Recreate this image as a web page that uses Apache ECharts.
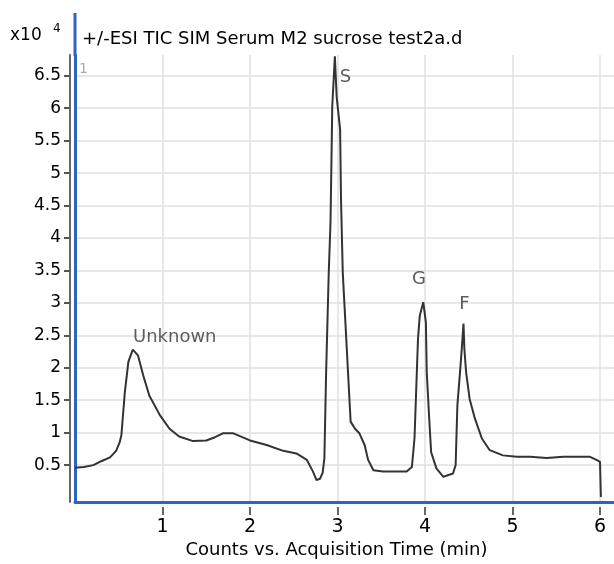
<!DOCTYPE html>
<html>
<head>
<meta charset="utf-8">
<script src="https://cdn.jsdelivr.net/npm/echarts@6/dist/echarts.min.js"></script>
<style>html,body{margin:0;padding:0;background:#fff}#c{width:614px;height:564px}</style>
</head>
<body>
<div id="c"></div>
<script>
// Retention time (min)
var times = [0.00,0.10,0.21,0.30,0.40,0.47,0.51,0.53,0.57,0.61,0.66,0.72,0.78,0.85,0.97,1.08,1.19,1.35,1.50,1.60,1.69,1.81,2.00,2.19,2.38,2.53,2.65,2.72,2.76,2.80,2.83,2.85,2.87,2.90,2.92,2.93,2.94,2.96,2.97,2.99,3.03,3.04,3.06,3.10,3.13,3.15,3.20,3.25,3.31,3.35,3.41,3.52,3.65,3.79,3.85,3.88,3.90,3.92,3.94,3.98,4.01,4.02,4.05,4.07,4.13,4.21,4.32,4.35,4.37,4.40,4.42,4.44,4.45,4.47,4.51,4.57,4.65,4.74,4.89,5.05,5.20,5.39,5.58,5.75,5.88,5.96,6.00,6.01];
// Counts (x10^4)
var counts = [0.46,0.47,0.50,0.56,0.62,0.72,0.85,0.96,1.63,2.09,2.28,2.19,1.88,1.57,1.27,1.06,0.94,0.87,0.88,0.93,0.99,0.99,0.88,0.81,0.72,0.68,0.58,0.40,0.27,0.29,0.38,0.60,1.93,3.47,4.24,5.11,6.03,6.54,6.80,6.18,5.67,4.60,3.47,2.45,1.68,1.17,1.06,0.99,0.81,0.58,0.42,0.40,0.40,0.40,0.47,0.91,1.68,2.45,2.80,3.01,2.70,1.93,1.17,0.70,0.45,0.32,0.37,0.50,1.42,1.93,2.29,2.68,2.29,1.93,1.52,1.22,0.91,0.73,0.65,0.63,0.63,0.61,0.63,0.63,0.63,0.58,0.55,0.01];
// Peak annotations
var peakNames = ['Unknown','S','G','F'];
var peakLabelTimes = [1.14,3.09,3.93,4.45];
var peakLabelCounts = [2.47,6.48,3.37,2.98];
// Ticks
var xTicks = [1,2,3,4,5,6];
var yTicks = [0.5,1,1.5,2,2.5,3,3.5,4,4.5,5,5.5,6,6.5];

var titleText = '+/-ESI TIC SIM Serum M2 sucrose test2a.d';
var xName = 'Counts vs. Acquisition Time (min)';

var BLUE = '#2e63c6';
var FONT = 'DejaVu Sans';

var trace = times.map(function(t,i){return [t,counts[i]];});
var peaks = peakNames.map(function(n,i){return {name:n,value:[peakLabelTimes[i],peakLabelCounts[i]]};});

var chart = echarts.init(document.getElementById('c'), null, {renderer:'canvas'});
chart.setOption({
  animation:false,
  backgroundColor:'#fff',
  title:{text:titleText,left:77,top:25,textStyle:{fontFamily:FONT,fontSize:18,fontWeight:'normal',color:'#000'}},
  grid:{left:75,right:0,top:55,bottom:60.5,containLabel:false},
  xAxis:[{
    type:'value',min:0,max:6.16,position:'bottom',
    axisLine:{show:true,onZero:false,lineStyle:{color:BLUE,width:3}},
    axisTick:{show:false,customValues:xTicks},
    axisLabel:{show:false},
    splitLine:{show:true,lineStyle:{color:'#e0e0e0',width:1.5}}
  },{
    type:'value',min:0,max:6.16,position:'bottom',offset:5,
    axisLine:{show:false,onZero:false},
    axisTick:{show:true,length:8,customValues:xTicks,lineStyle:{color:'#666',width:2}},
    axisLabel:{show:true,customValues:xTicks,margin:10,fontFamily:FONT,fontSize:19,color:'#000'},
    splitLine:{show:false},
    name:xName,nameLocation:'middle',nameGap:33,
    nameTextStyle:{fontFamily:FONT,fontSize:18,color:'#000',padding:[0,16,0,0]}
  }],
  yAxis:[{
    type:'value',min:-0.07,max:6.82,position:'left',
    axisLine:{show:true,onZero:false,lineStyle:{color:BLUE,width:3}},
    axisTick:{show:false,customValues:yTicks},
    axisLabel:{show:false},
    splitLine:{show:true,lineStyle:{color:'#e0e0e0',width:1.5}}
  },{
    type:'value',min:-0.07,max:6.82,position:'left',offset:5,
    axisLine:{show:true,onZero:false,lineStyle:{color:'#666',width:2}},
    axisTick:{show:true,length:6,customValues:yTicks,lineStyle:{color:'#555',width:2}},
    axisLabel:{show:true,customValues:yTicks,margin:9,fontFamily:FONT,fontSize:17,color:'#000'},
    splitLine:{show:false}
  }],
  graphic:[
    {type:'line',shape:{x1:75,y1:13,x2:75,y2:56},style:{stroke:BLUE,lineWidth:3}},
    {type:'text',left:10,top:27,style:{text:'x10',font:'17px "DejaVu Sans"',fill:'#000'}},
    {type:'text',left:53,top:23,style:{text:'4',font:'12px "DejaVu Sans"',fill:'#000'}},
    {type:'text',left:79,top:62,style:{text:'1',font:'14px "DejaVu Sans"',fill:'#aaa'}}
  ],
  series:[{
    type:'line',data:trace,xAxisIndex:0,yAxisIndex:0,
    showSymbol:false,symbol:'none',clip:false,
    lineStyle:{color:'#333',width:2}
  },{
    type:'scatter',data:peaks,xAxisIndex:0,yAxisIndex:0,symbolSize:0,
    label:{show:true,position:'inside',formatter:'{b}',fontFamily:FONT,fontSize:18,color:'#333'}
  }]
});
</script>
</body>
</html>
